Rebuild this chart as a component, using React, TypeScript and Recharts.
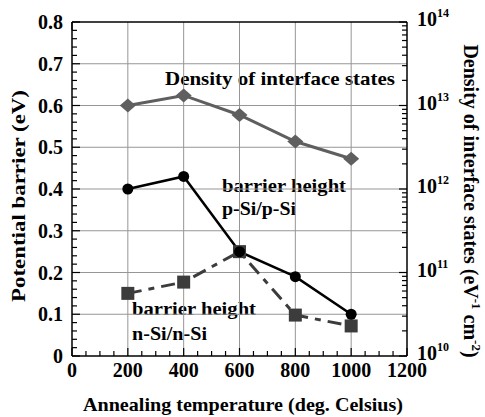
import React from "react";
import { Line, LineChart, ReferenceLine, XAxis, YAxis } from "recharts";

// annealing temperature (deg. C)
const temps = [200, 400, 600, 800, 1000];
// potential barrier (eV)
const pSiBarrier = [0.4, 0.43, 0.25, 0.19, 0.1];
const nSiBarrier = [0.15, 0.177, 0.25, 0.098, 0.072];
// density of interface states (eV^-1 cm^-2)
const interfaceDensity = [1.0e13, 1.32e13, 7.7e12, 3.7e12, 2.3e12];

const xMajorTicks = [0, 200, 400, 600, 800, 1000, 1200];
const xMinorSteps = [0, 50, 100, 150];
const yMajorTicks = [0, 0.1, 0.2, 0.3, 0.4, 0.5, 0.6, 0.7, 0.8];
const yMinorSteps = [0, 0.02, 0.04, 0.06, 0.08];
const densityDecades = [1e10, 1e11, 1e12, 1e13, 1e14];
const densityMinorSteps = [1, 2, 3, 4, 5, 6, 7, 8, 9];

const xTicks = xMajorTicks
  .flatMap((t) => (t < 1200 ? xMinorSteps.map((s) => t + s) : [t]));
const yTicks = yMajorTicks
  .flatMap((t) => (t < 0.8 ? yMinorSteps.map((s) => +(t + s).toFixed(2)) : [t]));
const densityTicks = densityDecades
  .flatMap((d) => (d < 1e14 ? densityMinorSteps.map((m) => d * m) : [d]));

const rows = temps.map((temp, i) => ({
  temp,
  pSi: pSiBarrier[i],
  nSi: nSiBarrier[i],
  density: interfaceDensity[i],
}));

const FONT = "'Liberation Serif', serif";

const isMajorX = (v: number) => v % 200 === 0;
const isMajorY = (v: number) => Math.abs(v * 10 - Math.round(v * 10)) < 1e-6;
const isDecade = (v: number) => Math.abs(Math.log10(v) - Math.round(Math.log10(v))) < 1e-6;

function BottomTick({ x, y, payload }: any) {
  const major = isMajorX(payload.value);
  return (
    <g>
      <line x1={x} x2={x} y1={y} y2={y - (major ? 8 : 5)} stroke="#000" strokeWidth={1.2} />
      {major && (
        <text x={x} y={y + 21} textAnchor="middle" fontSize={20} fontFamily={FONT} fontWeight="bold" fill="#000">
          {payload.value}
        </text>
      )}
    </g>
  );
}

function TopTick({ x, y, payload }: any) {
  const major = isMajorX(payload.value);
  return <line x1={x} x2={x} y1={y} y2={y + (major ? 8 : 5)} stroke="#000" strokeWidth={1.2} />;
}

function LeftTick({ x, y, payload }: any) {
  const major = isMajorY(payload.value);
  return (
    <g>
      <line x1={x} x2={x + (major ? 8 : 5)} y1={y} y2={y} stroke="#000" strokeWidth={1.2} />
      {major && (
        <text x={x - 9} y={y + 7} textAnchor="end" fontSize={20} fontFamily={FONT} fontWeight="bold" fill="#000">
          {payload.value === 0 ? "0" : payload.value.toFixed(1)}
        </text>
      )}
    </g>
  );
}

function RightTick({ x, y, payload }: any) {
  const major = isDecade(payload.value);
  const exp = Math.round(Math.log10(payload.value));
  return (
    <g>
      <line x1={x} x2={x - (major ? 8 : 5)} y1={y} y2={y} stroke="#000" strokeWidth={1.2} />
      {major && (
        <text x={x + 10} y={y + 4} fontSize={20} fontFamily={FONT} fontWeight="bold" fill="#000">
          10
          <tspan dy={-9} fontSize={12}>
            {exp}
          </tspan>
        </text>
      )}
    </g>
  );
}

const diamond = (props: any) => {
  const { cx, cy, index } = props;
  return (
    <polygon
      key={`d-${index}`}
      points={`${cx},${cy - 7} ${cx + 8},${cy} ${cx},${cy + 7} ${cx - 8},${cy}`}
      fill="#5f5f5f"
    />
  );
};

const square = (props: any) => {
  const { cx, cy, index } = props;
  return <rect key={`s-${index}`} x={cx - 6.5} y={cy - 6.5} width={13} height={13} fill="#3c3c3c" />;
};

const circle = (props: any) => {
  const { cx, cy, index } = props;
  return <circle key={`c-${index}`} cx={cx} cy={cy} r={5.5} fill="#000" />;
};

const labelProps = {
  fontFamily: FONT,
  fontWeight: "bold",
  fill: "#000",
  lengthAdjust: "spacingAndGlyphs" as const,
};

const GRID = "#969696";

export default function App() {
  return (
    <div style={{ position: "absolute", left: 0, top: 0, width: 485, height: 417, background: "#fff" }}>
      <LineChart width={485} height={417} data={rows} margin={{ top: 21, right: 0, bottom: 0, left: 0 }}>
        <XAxis
          xAxisId="bottom"
          dataKey="temp"
          type="number"
          domain={[0, 1200]}
          ticks={xTicks}
          interval={0}
          height={61}
          tickSize={0}
          tickMargin={0}
          tickLine={false}
          tick={BottomTick}
          axisLine={{ stroke: "#000", strokeWidth: 1.5 }}
        />
        <XAxis
          xAxisId="top"
          orientation="top"
          type="number"
          domain={[0, 1200]}
          ticks={xTicks}
          interval={0}
          height={1}
          tickSize={0}
          tickMargin={0}
          tickLine={false}
          tick={TopTick}
          axisLine={{ stroke: "#000", strokeWidth: 1.5 }}
        />
        <YAxis
          yAxisId="left"
          type="number"
          domain={[0, 0.8]}
          ticks={yTicks}
          interval={0}
          width={72}
          tickSize={0}
          tickMargin={0}
          tickLine={false}
          tick={LeftTick}
          axisLine={{ stroke: "#000", strokeWidth: 1.5 }}
        />
        <YAxis
          yAxisId="right"
          orientation="right"
          type="number"
          scale="log"
          domain={[1e10, 1e14]}
          allowDataOverflow
          ticks={densityTicks}
          interval={0}
          width={78}
          tickSize={0}
          tickMargin={0}
          tickLine={false}
          tick={RightTick}
          axisLine={{ stroke: "#000", strokeWidth: 1.5 }}
        />

        {xMajorTicks.slice(1, -1).map((v) => (
          <ReferenceLine key={`gx-${v}`} xAxisId="bottom" yAxisId="left" x={v} stroke={GRID} strokeWidth={1} />
        ))}
        {yMajorTicks.slice(1, -1).map((v) => (
          <ReferenceLine key={`gy-${v}`} xAxisId="bottom" yAxisId="left" y={v} stroke={GRID} strokeWidth={1} />
        ))}

        <Line
          xAxisId="bottom"
          yAxisId="right"
          dataKey="density"
          stroke="#5f5f5f"
          strokeWidth={3}
          dot={diamond}
          isAnimationActive={false}
        />
        <Line
          xAxisId="bottom"
          yAxisId="left"
          dataKey="nSi"
          stroke="#3c3c3c"
          strokeWidth={3}
          strokeDasharray="14 7 6 7"
          dot={square}
          isAnimationActive={false}
        />
        <Line
          xAxisId="bottom"
          yAxisId="left"
          dataKey="pSi"
          stroke="#000"
          strokeWidth={2.5}
          dot={circle}
          isAnimationActive={false}
        />

        <text x={165} y={85} fontSize={19} textLength={230} {...labelProps}>
          Density of interface states
        </text>
        <text x={222} y={192} fontSize={19} textLength={124} {...labelProps}>
          barrier height
        </text>
        <text x={222} y={215} fontSize={19} textLength={74} {...labelProps}>
          p-Si/p-Si
        </text>
        <text x={132} y={315} fontSize={19} textLength={124} {...labelProps}>
          barrier height
        </text>
        <text x={132} y={340} fontSize={19} textLength={75} {...labelProps}>
          n-Si/n-Si
        </text>

        <text x={83} y={411} fontSize={19} textLength={320} {...labelProps}>
          Annealing temperature (deg. Celsius)
        </text>
        <text
          x={0}
          y={0}
          transform="translate(25 302) rotate(-90)"
          fontSize={19}
          textLength={212}
          {...labelProps}
        >
          Potential barrier (eV)
        </text>
        <text
          x={0}
          y={0}
          transform="translate(464 201) rotate(90)"
          textAnchor="middle"
          fontSize={20}
          fontWeight="bold"
          fill="#000"
          fontFamily={FONT}
        >
          Density of interface states (eV
          <tspan dy={-8} fontSize={13}>-1</tspan>
          <tspan dy={8}> cm</tspan>
          <tspan dy={-8} fontSize={13}>-2</tspan>
          <tspan dy={8}>)</tspan>
        </text>
      </LineChart>
    </div>
  );
}
